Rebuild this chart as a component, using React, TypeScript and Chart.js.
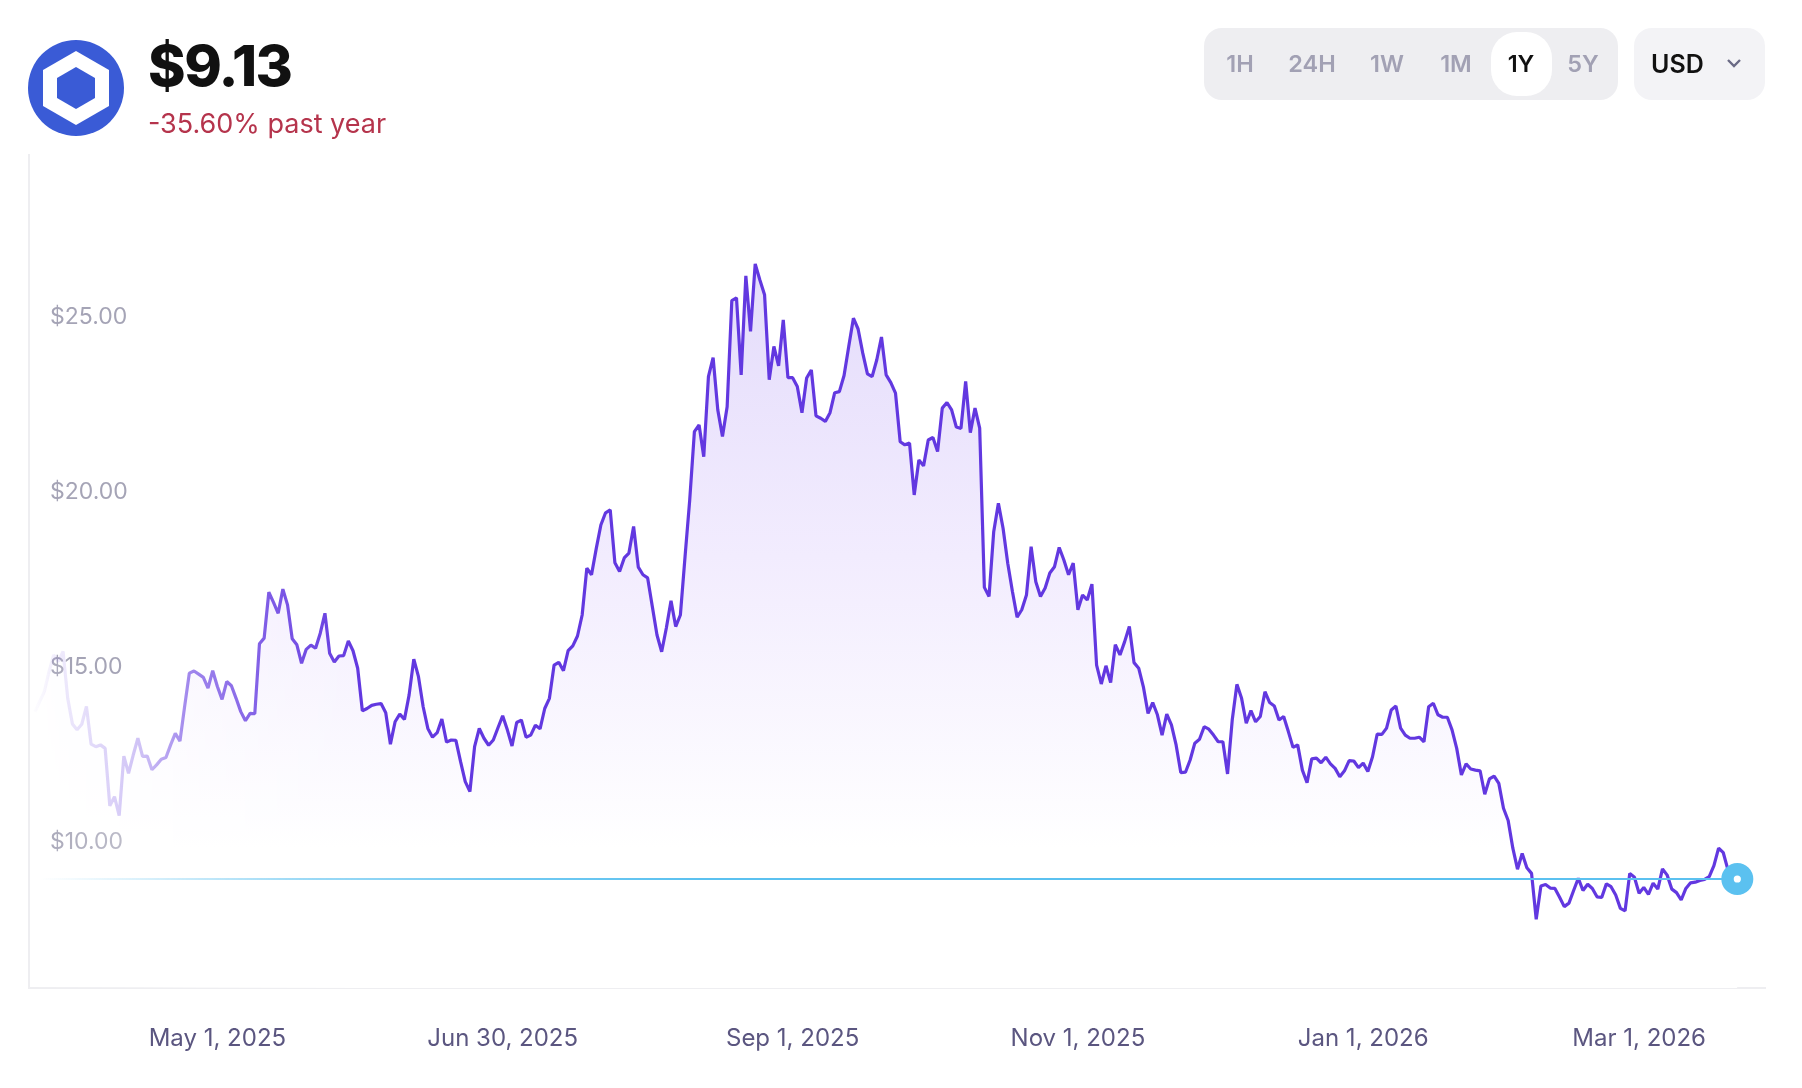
import React, { useEffect, useRef } from "react";
import { Chart, registerables } from "chart.js";

Chart.register(...registerables);

const DAY_MS = 86400000;
const firstDay = Date.UTC(2025, 2, 23);
const axisStartDays = -1.28;
const axisSpanDays = 371.2;

const tickDates = [Date.UTC(2025, 4, 1), Date.UTC(2025, 6, 1), Date.UTC(2025, 8, 1), Date.UTC(2025, 10, 1), Date.UTC(2026, 0, 1), Date.UTC(2026, 2, 1)];
const tickLabels = ["May 1, 2025", "Jun 30, 2025", "Sep 1, 2025", "Nov 1, 2025", "Jan 1, 2026", "Mar 1, 2026"];
const priceTicks = [10, 15, 20, 25];
const rangeOptions = ["1H", "24H", "1W", "1M", "1Y", "5Y"];
const currentPrice = 9.13;
const yMin = 6.016;
const yMax = 29.81;

const prices = [
  13.91, 14.2, 14.48, 15.05, 15.53, 15.34, 15.63, 14.29, 13.56, 13.39, 13.55, 14.06, 12.98, 12.91, 12.96, 12.86,
  11.22, 11.48, 10.94, 12.64, 12.15, 12.67, 13.15, 12.63, 12.64, 12.25, 12.39, 12.55, 12.6, 12.96, 13.29, 13.07,
  14.06, 15.01, 15.07, 14.98, 14.89, 14.58, 15.08, 14.63, 14.26, 14.77, 14.65, 14.29, 13.91, 13.65, 13.86, 13.85,
  15.85, 16.01, 17.32, 17.03, 16.72, 17.41, 16.96, 15.99, 15.82, 15.29, 15.69, 15.81, 15.72, 16.15, 16.72, 15.58,
  15.33, 15.5, 15.51, 15.93, 15.65, 15.15, 13.93, 14.0, 14.09, 14.12, 14.14, 13.88, 12.98, 13.62, 13.84, 13.69,
  14.39, 15.41, 14.91, 14.05, 13.43, 13.18, 13.31, 13.7, 13.04, 13.1, 13.09, 12.48, 11.91, 11.63, 12.91, 13.43,
  13.15, 12.95, 13.1, 13.45, 13.79, 13.39, 12.93, 13.6, 13.67, 13.18, 13.24, 13.52, 13.42, 14.0, 14.29, 15.24,
  15.32, 15.08, 15.65, 15.79, 16.07, 16.67, 18.01, 17.82, 18.56,
  19.24, 19.59, 19.67, 18.16, 17.91, 18.3, 18.44, 19.2, 18.04, 17.82, 17.73, 16.91, 16.1, 15.62, 16.3, 17.08,
  16.34, 16.67, 18.34, 19.96, 21.91, 22.1, 21.19, 23.48, 24.02, 22.53, 21.77, 22.62, 25.65, 25.73, 23.53, 26.36,
  24.77, 26.7, 26.24, 25.82, 23.39, 24.34, 23.79, 25.1, 23.45, 23.45, 23.2, 22.45, 23.44, 23.67, 22.36, 22.29,
  22.2, 22.45, 23.02, 23.05, 23.51, 24.34, 25.15, 24.84, 24.15, 23.56, 23.48, 23.96, 24.61, 23.53, 23.31, 23.01,
  21.62, 21.53, 21.58, 20.1, 21.1, 20.93, 21.67, 21.74, 21.34, 22.58, 22.74, 22.53, 22.04, 22.0, 23.34, 21.88,
  22.58, 22.01, 17.46, 17.2, 19.05, 19.86, 19.15, 18.15, 17.34, 16.61, 16.82, 17.24, 18.62, 17.62, 17.2, 17.44,
  17.87, 18.05, 18.6, 18.24, 17.82, 18.15, 16.82, 17.24, 17.1, 17.55, 15.24, 14.7, 15.22, 14.74, 15.82, 15.53,
  15.91, 16.34, 15.31, 15.15, 14.62, 13.86, 14.17, 13.82, 13.24, 13.84, 13.53, 12.96, 12.17, 12.18, 12.53, 13.01,
  13.12, 13.48, 13.41, 13.24, 13.05, 13.05, 12.13, 13.67, 14.69, 14.29, 13.58, 13.94, 13.62, 13.77, 14.48, 14.17,
  14.07, 13.67, 13.77, 13.34, 12.89, 12.96, 12.24, 11.88, 12.56, 12.58, 12.45, 12.61, 12.42, 12.29, 12.05, 12.22,
  12.51, 12.5, 12.31, 12.44, 12.2, 12.62, 13.27, 13.26, 13.44, 13.96, 14.07, 13.44, 13.24, 13.15, 13.15, 13.18,
  13.05, 14.05, 14.15, 13.82, 13.75, 13.75, 13.39, 12.86, 12.1, 12.42, 12.27, 12.24, 12.22, 11.55, 11.99, 12.07,
  11.86, 11.15, 10.8, 10.01, 9.41, 9.86, 9.45, 9.29, 7.98, 8.93, 8.97, 8.87, 8.86, 8.61, 8.34, 8.44,
  8.8, 9.15, 8.8, 8.98, 8.86, 8.62, 8.6, 8.99, 8.91, 8.67, 8.29, 8.22, 9.29, 9.18, 8.72, 8.89,
  8.69, 9.01, 8.84, 9.42, 9.24, 8.84, 8.74, 8.53, 8.86, 9.02, 9.04, 9.09, 9.12, 9.2, 9.51, 10.01,
  9.88, 9.39, 9.13, 9.13,
];

const FONT = "Inter, sans-serif";
const LINE = [98, 56, 224];
const BLUE = [91, 193, 240];

function fade(ctx: CanvasRenderingContext2D, rgb: number[], stops: [number, number][]) {
  const g = ctx.createLinearGradient(30, 0, 1000, 0);
  stops.forEach(([px, a]) => g.addColorStop((px - 30) / 970, `rgba(${rgb[0]},${rgb[1]},${rgb[2]},${a})`));
  return g;
}

const lineFade: [number, number][] = [[30, 0], [60, 0.1], [100, 0.2], [140, 0.3], [190, 0.6], [270, 0.82], [360, 1], [1000, 1]];
const blueFade: [number, number][] = [[40, 0], [150, 0.25], [300, 0.6], [500, 0.85], [700, 1], [1000, 1]];

function fillPattern(chart: Chart) {
  const off = document.createElement("canvas");
  off.width = chart.width;
  off.height = chart.height;
  const c = off.getContext("2d")!;
  const y = chart.scales.y;
  const v = c.createLinearGradient(0, y.getPixelForValue(26.7), 0, y.getPixelForValue(10));
  v.addColorStop(0, "rgb(228,220,251)");
  v.addColorStop(0.5, "rgb(242,236,254)");
  v.addColorStop(1, "rgb(255,255,255)");
  c.fillStyle = v;
  c.fillRect(0, 0, off.width, off.height);
  c.globalCompositeOperation = "destination-in";
  c.fillStyle = fade(c, [0, 0, 0], lineFade);
  c.fillRect(0, 0, off.width, off.height);
  return chart.ctx.createPattern(off, "no-repeat")!;
}

export default function App() {
  const ref = useRef<HTMLCanvasElement>(null);
  useEffect(() => {
    const dated = prices.map((y, i) => ({ x: firstDay + i * DAY_MS, y }));
    const last = prices.length - 1;
    let pattern: CanvasPattern | null = null;
    const chart = new Chart(ref.current!, {
      type: "line",
      data: {
        datasets: [
          {
            data: prices.map((_, i) => ({ x: firstDay + i * DAY_MS, y: currentPrice })),
            borderWidth: 2,
            borderColor: (c: any) => (c.chart.chartArea ? fade(c.chart.ctx, BLUE, blueFade) : "transparent"),
            fill: false,
            tension: 0,
            pointRadius: (c: any) => (c.dataIndex === last ? 9.8 : 0),
            pointBorderWidth: 12.4,
            pointBackgroundColor: "#ffffff",
            pointBorderColor: "rgb(91,193,240)",
          },
          {
            data: dated,
            borderWidth: 3.2,
            borderJoinStyle: "bevel",
            borderColor: (c: any) => (c.chart.chartArea ? fade(c.chart.ctx, LINE, lineFade) : "transparent"),
            backgroundColor: (c: any) => {
              if (!c.chart.chartArea) return "transparent";
              if (!pattern) pattern = fillPattern(c.chart);
              return pattern;
            },
            fill: "start",
            tension: 0,
            pointRadius: 0,
          },
        ],
      },
      options: {
        animation: false,
        responsive: false,
        layout: { padding: { top: 155, right: 37, left: 0, bottom: 0 } },
        plugins: { legend: { display: false }, tooltip: { enabled: false } },
        events: [],
        scales: {
          x: {
            type: "linear",
            min: firstDay + axisStartDays * DAY_MS,
            max: firstDay + (axisStartDays + axisSpanDays) * DAY_MS,
            afterBuildTicks: (s: any) => {
              s.ticks = tickDates.map((value) => ({ value }));
            },
            afterFit: (s: any) => {
              s.height = 100;
            },
            grid: { display: false, drawTicks: false },
            border: { display: true, color: "#eeeef1", width: 2 },
            ticks: {
              autoSkip: false,
              maxRotation: 0,
              padding: 36,
              color: "#5b5680",
              font: { family: FONT, size: 24 },
              callback: (v: any) => tickLabels[tickDates.indexOf(v)],
            },
          },
          y: {
            min: yMin,
            max: yMax,
            afterBuildTicks: (s: any) => {
              s.ticks = priceTicks.map((value) => ({ value }));
            },
            afterFit: (s: any) => {
              s.width = 29;
            },
            grid: { display: false, drawTicks: false },
            border: { display: true, color: "#eeeef1", width: 2 },
            ticks: {
              mirror: true,
              padding: 21,
              labelOffset: -6,
              color: "#a5a4b6",
              font: { family: FONT, size: 23 },
              callback: (v: any) => `$${Number(v).toFixed(2)}`,
            },
          },
        },
      },
    } as any);
    return () => chart.destroy();
  }, []);

  const centers = [1240, 1312, 1387, 1456, 1521, 1583];
  return (
    <div style={{ position: "fixed", left: 0, top: 0, width: 1802, height: 1088, background: "#fff", overflow: "hidden", fontFamily: FONT }}>
      <canvas ref={ref} width={1802} height={1088} style={{ position: "absolute", left: 0, top: 0, display: "block" }} />
      <svg style={{ position: "absolute", left: 28, top: 40 }} width={96} height={96} viewBox="0 0 96 96">
        <circle cx={48} cy={48} r={48} fill="#3a5bd6" />
        <path d="M48 11 L81 30 L81 66 L48 85 L15 66 L15 30 Z" fill="#fff" />
        <path d="M48 27 L67 38 L67 58 L48 69 L29 58 L29 38 Z" fill="#3a5bd6" />
      </svg>
      <div style={{ position: "absolute", left: 148, top: 28, fontSize: 57, lineHeight: "76px", fontWeight: 800, color: "#111", letterSpacing: -1.5 }}>$9.13</div>
      <div style={{ position: "absolute", left: 148, top: 106, fontSize: 27, lineHeight: "36px", color: "#b5344c" }}>-35.60% past year</div>
      <div style={{ position: "absolute", left: 1204, top: 28, width: 414, height: 72, borderRadius: 18, background: "#eeeef1" }} />
      <div style={{ position: "absolute", left: 1491, top: 32, width: 61, height: 64, borderRadius: 26, background: "#fff" }} />
      {rangeOptions.map((t, i) => (
        <div key={t} style={{ position: "absolute", left: centers[i] - 40, width: 80, top: 46, lineHeight: "36px", textAlign: "center", fontSize: 23.5, fontWeight: 600, color: t === "1Y" ? "#111" : "#a2a1b4" }}>{t}</div>
      ))}
      <div style={{ position: "absolute", left: 1634, top: 28, width: 131, height: 72, borderRadius: 18, background: "#f3f3f6" }} />
      <div style={{ position: "absolute", left: 1651, top: 46, lineHeight: "36px", fontSize: 25, fontWeight: 600, color: "#111" }}>USD</div>
      <svg style={{ position: "absolute", left: 1725, top: 57 }} width={18} height={14} viewBox="0 0 18 14">
        <path d="M3 3 L9 9 L15 3" fill="none" stroke="#6a6a85" strokeWidth={2.4} />
      </svg>
    </div>
  );
}
